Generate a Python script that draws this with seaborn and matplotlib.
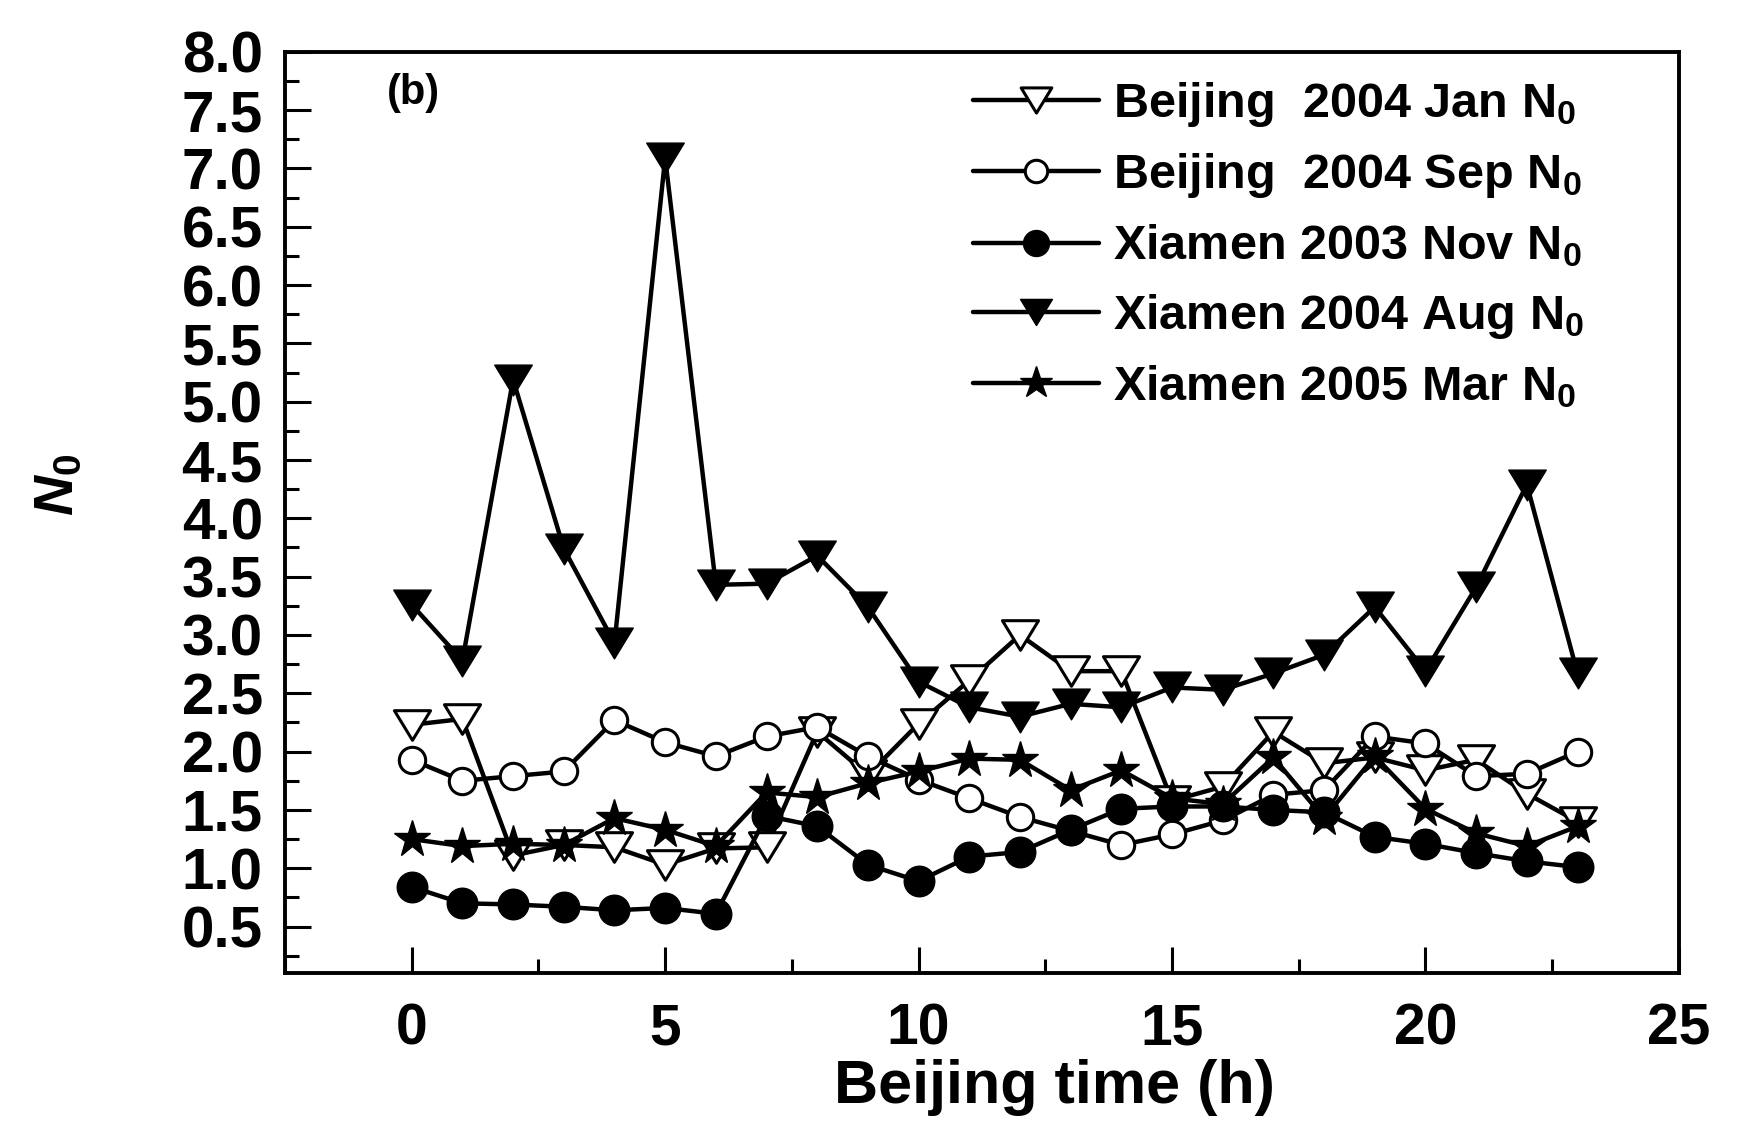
import matplotlib
matplotlib.use("Agg")
import matplotlib.pyplot as plt
from matplotlib.path import Path
from matplotlib.ticker import MultipleLocator
import pandas as pd
import seaborn as sns

# ---------------- data ----------------
hours = list(range(24))

beijing_2004_jan = [2.23, 2.28, 1.11, 1.20, 1.18, 1.03, 1.17, 1.18, 2.17, 1.80, 2.24, 2.61,
                    3.00, 2.69, 2.69, 1.58, 1.70, 2.17, 1.90, 1.95, 1.84, 1.93, 1.64, 1.40]
beijing_2004_sep = [1.93, 1.75, 1.79, 1.83, 2.27, 2.08, 1.96, 2.13, 2.21, 1.96, 1.76, 1.60,
                    1.44, 1.32, 1.20, 1.29, 1.41, 1.63, 1.67, 2.13, 2.07, 1.79, 1.81, 2.00]
xiamen_2003_nov = [0.84, 0.70, 0.69, 0.67, 0.64, 0.66, 0.61, 1.45, 1.36, 1.03, 0.89, 1.10,
                   1.14, 1.33, 1.51, 1.53, 1.53, 1.50, 1.48, 1.27, 1.21, 1.13, 1.06, 1.01]
xiamen_2004_aug = [3.26, 2.78, 5.19, 3.74, 2.93, 7.09, 3.43, 3.44, 3.68, 3.24, 2.60, 2.38,
                   2.30, 2.41, 2.38, 2.55, 2.53, 2.67, 2.83, 3.24, 2.69, 3.41, 4.29, 2.67]
xiamen_2005_mar = [1.25, 1.19, 1.21, 1.20, 1.43, 1.33, 1.19, 1.65, 1.61, 1.73, 1.83, 1.94,
                   1.93, 1.67, 1.84, 1.60, 1.55, 1.95, 1.43, 1.96, 1.51, 1.30, 1.19, 1.36]

series_labels = [r"Beijing  2004 Jan $\mathrm{N_0}$",
                 r"Beijing  2004 Sep $\mathrm{N_0}$",
                 r"Xiamen 2003 Nov $\mathrm{N_0}$",
                 r"Xiamen 2004 Aug $\mathrm{N_0}$",
                 r"Xiamen 2005 Mar $\mathrm{N_0}$"]
series_values = [beijing_2004_jan, beijing_2004_sep, xiamen_2003_nov,
                 xiamen_2004_aug, xiamen_2005_mar]

x_ticks = [0, 5, 10, 15, 20, 25]
y_ticks = [0.5, 1.0, 1.5, 2.0, 2.5, 3.0, 3.5, 4.0, 4.5, 5.0, 5.5, 6.0, 6.5, 7.0, 7.5, 8.0]

# ---------------- style ----------------
sns.set_theme(style="ticks")
plt.rcParams['font.family'] = ['Liberation Sans', 'DejaVu Sans']
plt.rcParams['font.weight'] = 'bold'
plt.rcParams['mathtext.fontset'] = 'custom'
plt.rcParams['mathtext.rm'] = 'Liberation Sans:bold'
plt.rcParams['mathtext.it'] = 'Liberation Sans:bold:italic'
plt.rcParams['mathtext.bf'] = 'Liberation Sans:bold'
plt.rcParams['axes.edgecolor'] = 'black'
plt.rcParams['text.color'] = 'black'
plt.rcParams['xtick.color'] = 'black'
plt.rcParams['ytick.color'] = 'black'
plt.rcParams['axes.labelcolor'] = 'black'

tri_down = Path([(-1, 0.82), (1, 0.82), (0, -0.82), (-1, 0.82)],
                [Path.MOVETO, Path.LINETO, Path.LINETO, Path.CLOSEPOLY])

styles = [
    dict(marker=tri_down, markersize=26, markerfacecolor='white',
         markeredgecolor='black', markeredgewidth=2.2),
    dict(marker='o', markersize=19, markerfacecolor='white',
         markeredgecolor='black', markeredgewidth=2.2),
    dict(marker='o', markersize=22, markerfacecolor='black',
         markeredgecolor='black', markeredgewidth=1.0),
    dict(marker=tri_down, markersize=27, markerfacecolor='black',
         markeredgecolor='black', markeredgewidth=1.0),
    dict(marker='*', markersize=28, markerfacecolor='black',
         markeredgecolor='black', markeredgewidth=1.0),
]

fig = plt.figure(figsize=(17.56, 11.27), dpi=100)
ax = fig.add_axes([0.1623, 0.1364, 0.7938, 0.8177])

for vals, lab, st in zip(series_values, series_labels, styles):
    df = pd.DataFrame({"hour": hours, "N0": vals})
    sns.lineplot(data=df, x="hour", y="N0", ax=ax, color='black',
                 linewidth=3.2, label=lab, **st)

ax.set_xlim(-2.5, 25)
ax.set_ylim(0.1, 8.0)
ax.set_xticks(x_ticks)
ax.set_yticks(y_ticks)
ax.set_yticklabels([f"{v:.1f}" for v in y_ticks])
ax.xaxis.set_minor_locator(MultipleLocator(2.5))
ax.yaxis.set_minor_locator(MultipleLocator(0.25))

ax.tick_params(axis='both', which='major', direction='in', length=19, width=2.2,
               top=False, right=False)
ax.tick_params(axis='both', which='minor', direction='in', length=10, width=2.2,
               top=False, right=False)
ax.tick_params(axis='x', which='major', labelsize=41, pad=21)
ax.tick_params(axis='y', which='major', labelsize=42, pad=16)
for sp in ax.spines.values():
    sp.set_linewidth(2.8)
    sp.set_color('black')

ax.set_xlabel("Beijing time (h)", fontsize=44, fontweight='bold')
ax.xaxis.set_label_coords(0.552, -0.093)
ax.set_ylabel(r"$N_0$", fontsize=40)
ax.yaxis.set_label_coords(-0.143, 0.53)

ax.text(413 / 1756, 1 - 93 / 1127, "(b)", transform=fig.transFigure,
        ha='center', va='center', fontsize=30, fontweight='bold')

leg = ax.legend(loc='upper left', bbox_to_anchor=(973 / 1756, 0.929),
                bbox_transform=fig.transFigure, frameon=False, fontsize=35,
                handlelength=2.6, handletextpad=0.27, labelspacing=0.46,
                borderpad=0, borderaxespad=0, markerscale=0.85)

fig.savefig("out.png", dpi=100)
